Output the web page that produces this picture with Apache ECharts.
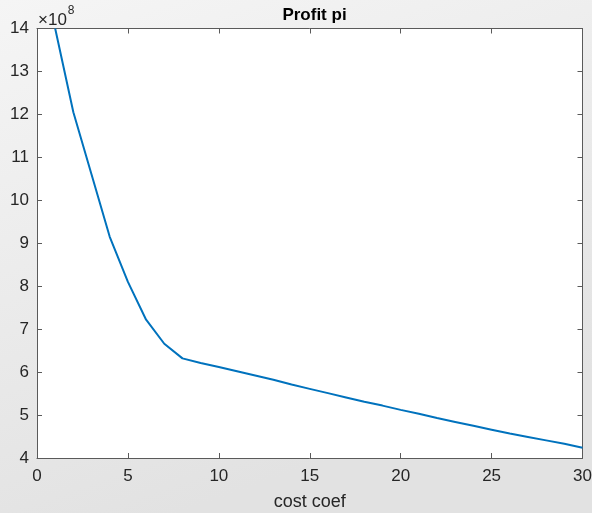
<!DOCTYPE html>
<html>
<head>
<meta charset="utf-8">
<script src="https://cdn.jsdelivr.net/npm/echarts@6/dist/echarts.min.js"></script>
<style>
html,body{margin:0;padding:0;}
#c{width:592px;height:513px;}
</style>
</head>
<body>
<div id="c"></div>
<script>
// cost coef values
const costCoef = [1,2,3,4,5,6,7,8,9,10,11,12,13,14,15,16,17,18,19,20,21,22,23,24,25,26,27,28,29,30];
// profit pi in units of 1e8
const profit = [14.0,12.05,10.6,9.15,8.1,7.22,6.66,6.32,6.21,6.12,6.02,5.92,5.82,5.71,5.61,5.51,5.41,5.31,5.22,5.12,5.03,4.93,4.84,4.75,4.66,4.57,4.49,4.41,4.33,4.24];
const xTicks = [0,5,10,15,20,25,30];
const yTicks = [4,5,6,7,8,9,10,11,12,13,14];
const titleText = 'Profit pi';
const xLabel = 'cost coef';
const expText = '8';

const chart = echarts.init(document.getElementById('c'));
const axisCol = '#5a5a5a';
const textCol = '#262626';
const font = 'Liberation Sans, Arial, sans-serif';

const commonX = {
  type: 'value', min: xTicks[0], max: xTicks[xTicks.length-1], interval: 5,
  splitLine: {show: false},
  axisLine: {onZero: false, lineStyle: {color: axisCol, width: 1}},
  axisTick: {inside: true, length: 5, lineStyle: {color: axisCol}},
};
const commonY = {
  type: 'value', min: yTicks[0], max: yTicks[yTicks.length-1], interval: 1,
  splitLine: {show: false},
  axisLine: {onZero: false, lineStyle: {color: axisCol, width: 1}},
  axisTick: {inside: true, length: 5, lineStyle: {color: axisCol}},
};

chart.setOption({
  backgroundColor: {
    type: 'linear', x: 0, y: 0, x2: 0.3, y2: 1,
    colorStops: [{offset: 0, color: '#f5f5f5'}, {offset: 1, color: '#e2e2e2'}]
  },
  animation: false,
  title: {
    text: titleText, left: 309.5, textAlign: 'center', top: 2,
    textStyle: {fontFamily: font, fontSize: 17, fontWeight: 'bold', color: '#000'}
  },
  grid: {left: 37, right: 9.5, top: 28.5, bottom: 55, show: true, backgroundColor: '#fff', borderWidth: 0,
         containLabel: false, outerBoundsMode: 'none'},
  xAxis: [
    Object.assign({}, commonX, {
      position: 'bottom',
      name: xLabel, nameLocation: 'middle', nameGap: 35,
      nameTextStyle: {fontFamily: font, fontSize: 18, color: textCol},
      axisLabel: {fontFamily: font, fontSize: 17, color: textCol, margin: 10}
    }),
    Object.assign({}, commonX, {position: 'top', axisLabel: {show: false}})
  ],
  yAxis: [
    Object.assign({}, commonY, {
      position: 'left',
      axisLabel: {fontFamily: font, fontSize: 17, color: textCol, margin: 8}
    }),
    Object.assign({}, commonY, {position: 'right', axisLabel: {show: false}})
  ],
  graphic: [{
    type: 'text', left: 38, top: 5,
    style: {
      text: '{a|×10}{b|' + expText + '}',
      rich: {
        a: {fontFamily: font, fontSize: 17, fill: textCol, padding: [7, 0, 0, 0]},
        b: {fontFamily: font, fontSize: 12, fill: textCol, verticalAlign: 'top', padding: [0, 0, 10, 1]}
      }
    }
  }],
  series: [{
    type: 'line', xAxisIndex: 0, yAxisIndex: 0,
    data: costCoef.map((c, i) => [c, profit[i]]),
    showSymbol: false, symbol: 'none',
    lineStyle: {color: '#0072BD', width: 2},
    clip: true
  }]
});
</script>
</body>
</html>
